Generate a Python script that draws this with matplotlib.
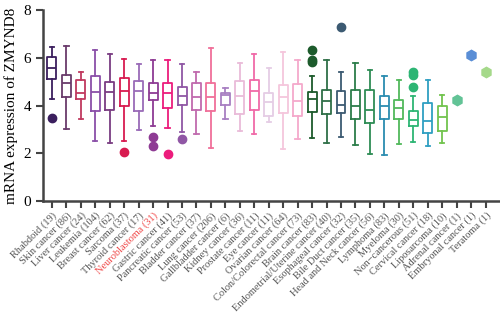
import numpy as np
import matplotlib.pyplot as plt

labels = ["Rhabdoid (19)", "Skin cancer (86)", "Liver cancer (24)", "Leukemia (104)",
          "Breast cancer (62)", "Sarcoma (37)", "Thyroid cancer (17)", "Neuroblastoma (31)",
          "Gastric cancer (41)", "Pancreatic cancer (53)", "Bladder cancer (37)",
          "Lung cancer (206)", "Gallbladder cancer (6)", "Kidney cancer (36)",
          "Prostate cancer (11)", "Eye cancer (11)", "Ovarian cancer (64)",
          "Colon/Colorectal cancer (73)", "Brain cancer (83)",
          "Endometrial/Uterine cancer (40)", "Esophageal cancer (32)",
          "Bile Duct cancer (35)", "Head and Neck cancer (56)", "Lymphoma (83)",
          "Myeloma (30)", "Non\u2212cancerous (51)", "Cervical cancer (18)",
          "Liposarcoma (10)", "Adrenal cancer (1)", "Embryonal cancer (1)", "Teratoma (1)"]

# box stats for the first 28 groups
whis_hi = [6.46, 6.50, 5.42, 6.33, 6.17, 5.94, 5.72, 5.92, 5.92, 5.75, 5.39, 6.43, 4.74, 5.78,
           6.18, 5.56, 6.26, 5.90, 5.25, 5.90, 5.39, 5.80, 5.51, 5.22, 5.08, 4.38, 5.07, 4.46]
q3 = [6.04, 5.28, 5.08, 5.24, 5.00, 5.14, 5.04, 4.94, 4.93, 4.76, 4.93, 4.93, 4.51, 5.01,
      5.07, 4.51, 4.86, 4.90, 4.58, 4.67, 4.62, 4.65, 4.67, 4.40, 4.24, 3.79, 4.11, 3.97]
med = [5.57, 4.93, 4.53, 4.57, 4.56, 4.61, 4.61, 4.51, 4.51, 4.42, 4.35, 4.35, 4.43, 4.40,
       4.60, 4.14, 4.35, 4.21, 4.28, 4.21, 4.03, 3.97, 3.82, 3.96, 3.89, 3.40, 3.35, 3.51]
q1 = [5.11, 4.35, 4.28, 3.79, 3.83, 3.97, 3.78, 4.24, 3.90, 4.01, 3.82, 3.76, 4.04, 3.65,
      3.83, 3.58, 3.68, 3.58, 3.75, 3.65, 3.68, 3.45, 3.26, 3.42, 3.45, 3.15, 2.85, 2.93]
whis_lo = [4.29, 3.00, 3.45, 2.50, 2.43, 2.50, 2.96, 3.14, 3.05, 2.89, 2.79, 2.24, 3.45, 2.93,
           2.79, 3.33, 2.19, 2.58, 2.65, 2.44, 2.68, 2.36, 1.99, 1.92, 2.40, 2.47, 2.29, 2.44]
outliers = [[3.49], [], [], [], [], [2.05], [], [2.68, 2.29], [1.96], [2.61], [], [], [], [],
            [], [], [], [], [6.33, 5.90, 5.82], [], [7.29], [], [], [], [],
            [5.39, 5.27, 4.76], [], []]

# single-sample groups
single_vals = [4.24, 6.11, 5.42]

colors = ["#3b1f5e", "#6a3b6b", "#c0395f", "#8a4fa8", "#7a3d82", "#d81b50", "#9a6bb8",
          "#8e3b94", "#ec1c7c", "#9057a5", "#c06aae", "#f0709a", "#a87fc2", "#e9bbd9",
          "#f06aa8", "#e5cde5", "#f5c6dc", "#f4a9cb", "#1d5b2c", "#2f6f48", "#3c5a72",
          "#2c7d4a", "#2e8c55", "#2b8cb0", "#52b95c", "#2db574", "#2f9fc2", "#72c44e",
          "#62c396", "#5a8ed6", "#a5d98a"]

plt.rcParams['font.family'] = ['Liberation Serif', 'DejaVu Serif']

fig = plt.figure(figsize=(5, 3.25), dpi=100)
ax = fig.add_axes([0.086, 0.3815, 0.914, 0.5875])

nb = len(med)
stats = []
for i in range(nb):
    stats.append(dict(whislo=whis_lo[i], q1=q1[i], med=med[i], q3=q3[i],
                      whishi=whis_hi[i], fliers=outliers[i]))

for i in range(nb):
    c = colors[i]
    ax.bxp([stats[i]], positions=[i + 1], widths=0.62, showfliers=True,
           boxprops=dict(color=c, linewidth=1.3),
           medianprops=dict(color=c, linewidth=1.3),
           whiskerprops=dict(color=c, linewidth=1.3),
           capprops=dict(color=c, linewidth=1.3),
           flierprops=dict(marker='o', markerfacecolor=c, markeredgecolor=c,
                           markersize=6), capwidths=0.3)

for j, v in enumerate(single_vals):
    ax.plot([nb + 1 + j], [v], marker='h', color=colors[nb + j], markersize=7.5,
            linestyle='none')

ax.set_ylim(0, 8)
ax.set_xlim(0.38, 32.0)
ax.set_yticks([0, 2, 4, 6, 8])
ax.set_xticks(np.arange(1, len(labels) + 1))
ax.set_xticklabels(labels, rotation=45, ha='right', rotation_mode='anchor',
                   fontsize=7.5, color='#555555')
ax.get_xticklabels()[7].set_color('#f04848')
ax.tick_params(axis='y', labelsize=11, width=1.5, length=5, color='#444444')
ax.tick_params(axis='x', width=1.5, length=5, color='#444444', pad=2)
ax.set_ylabel('mRNA expression of ZMYND8', fontsize=11, labelpad=4)
for s in ['top', 'right']:
    ax.spines[s].set_visible(False)
for s in ['left', 'bottom']:
    ax.spines[s].set_linewidth(1.8)
    ax.spines[s].set_color('#444444')

fig.savefig('out.png', dpi=100)
